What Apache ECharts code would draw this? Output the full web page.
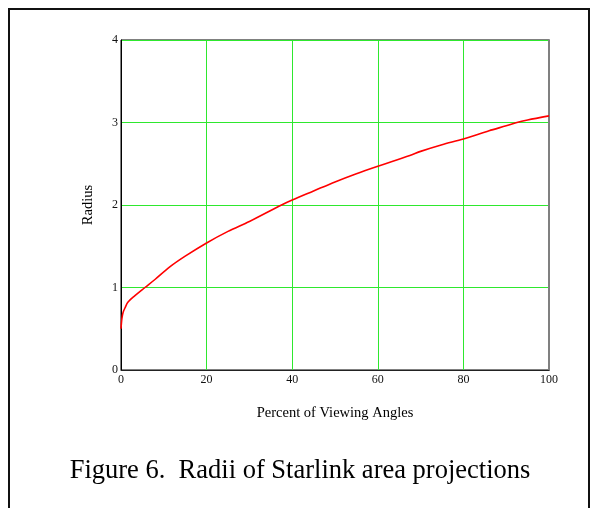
<!DOCTYPE html>
<html>
<head>
<meta charset="utf-8">
<script src="https://cdn.jsdelivr.net/npm/echarts@6/dist/echarts.min.js"></script>
<style>
  html, body { margin: 0; padding: 0; background: #fff; }
  #chart { width: 600px; height: 508px; }
</style>
</head>
<body>
<div id="chart"></div>
<script>
// Percent of viewing angles (x) and the corresponding radius (y)
const percent = [0, 0.2, 0.5, 1, 1.6, 3, 5.6, 8, 11.4, 15, 20, 25, 30, 37.5, 40, 45, 50, 55, 60, 67.5, 70, 75, 80, 86, 90, 92.5, 95, 100];
const radius  = [0.50, 0.62, 0.70, 0.76, 0.82, 0.89, 1.0, 1.10, 1.25, 1.38, 1.54, 1.68, 1.80, 2.0, 2.06, 2.17, 2.28, 2.38, 2.47, 2.60, 2.65, 2.73, 2.80, 2.90, 2.96, 3.0, 3.03, 3.08];

const xTicks = [0, 20, 40, 60, 80, 100];
const yTicks = [0, 1, 2, 3, 4];

const captionText = 'Figure 6.  Radii of Starlink area projections';
const xTitle = 'Percent of Viewing Angles';
const yTitle = 'Radius';

const serif = '"Liberation Serif", "DejaVu Serif", serif';
const gridGreen = '#2ee82e';

const chart = echarts.init(document.getElementById('chart'), null, { renderer: 'canvas' });

chart.setOption({
  backgroundColor: '#fff',
  animation: false,
  grid: {
    left: 121, top: 40, width: 428, height: 330,
    show: true, borderColor: '#000', borderWidth: 1, backgroundColor: 'transparent'
  },
  xAxis: {
    type: 'value',
    min: xTicks[0], max: xTicks[xTicks.length - 1], interval: 20,
    name: xTitle, nameLocation: 'middle', nameGap: 36,
    nameTextStyle: { fontFamily: serif, fontSize: 14.5, color: '#000' },
    axisLine: { show: true, lineStyle: { color: '#222', width: 1 } },
    axisTick: { show: false },
    axisLabel: { fontFamily: serif, fontSize: 12, color: '#111', margin: 4 },
    splitLine: { show: true, lineStyle: { color: gridGreen, width: 1 } }
  },
  yAxis: [{
    type: 'value',
    min: yTicks[0], max: yTicks[yTicks.length - 1], interval: 1,
    name: yTitle, nameLocation: 'middle', nameGap: 25,
    nameTextStyle: { fontFamily: serif, fontSize: 14.5, color: '#000' },
    axisLine: { show: true, lineStyle: { color: '#000', width: 1 } },
    axisTick: { show: false },
    axisLabel: { fontFamily: serif, fontSize: 12, color: '#111', margin: 3 },
    splitLine: { show: true, lineStyle: { color: gridGreen, width: 1 } }
  }, {
    type: 'value', position: 'right',
    min: yTicks[0], max: yTicks[yTicks.length - 1], interval: 1,
    axisLine: { show: true, lineStyle: { color: '#808080', width: 2 } },
    axisTick: { show: false }, axisLabel: { show: false }, splitLine: { show: false }
  }],
  series: [{
    type: 'line',
    data: percent.map((p, i) => [p, radius[i]]),
    smooth: 0.3,
    showSymbol: false,
    lineStyle: { color: '#ff0000', width: 1.6 },
    z: 5
  }],
  graphic: [
    {
      type: 'rect', silent: true,
      shape: { x: 9, y: 9, width: 580, height: 520 },
      style: { fill: 'none', stroke: '#111', lineWidth: 2 }
    },
    {
      type: 'text', left: 'center', top: 458,
      style: { text: captionText, font: '26.5px ' + serif, fill: '#000' }
    }
  ]
});
</script>
</body>
</html>
